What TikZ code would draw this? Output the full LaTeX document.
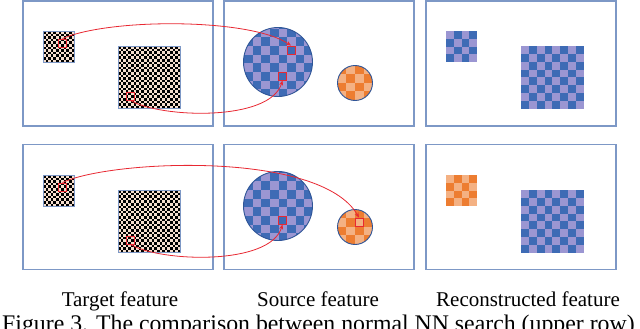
\documentclass[tikz,border=0pt]{standalone}
\usepackage{fontspec}
\setmainfont{Liberation Serif}
\usetikzlibrary{arrows.meta}
\definecolor{boxblue}{RGB}{125,152,198}
\definecolor{cellblue}{RGB}{62,107,181}
\definecolor{cellLav}{RGB}{155,150,210}
\definecolor{rimblue}{RGB}{47,85,151}
\definecolor{cellOr}{RGB}{237,125,49}
\definecolor{cellLor}{RGB}{244,177,131}
\definecolor{linkred}{RGB}{232,40,50}
\definecolor{peach}{RGB}{245,222,205}
% square checker: x0 y0 cell n colA(even) colB
\newcommand\sqchk[6]{%
  \fill[#6] (#1,#2) rectangle ++({#3*#4},{#3*#4});
  \foreach \i in {1,...,#4}{\foreach \j in {1,...,#4}{%
    \pgfmathtruncatemacro\pp{mod(\i+\j,2)}%
    \ifnum\pp=0 \fill[#5] ({#1+(\i-1)*#3},{#2+(\j-1)*#3}) rectangle ++(#3,#3);\fi}}}
% circle checker: cx cy r gx gy cell colOdd colEven
\newcommand\circchk[8]{%
  \begin{scope}
  \clip (#1,#2) circle[radius=#3];
  \fill[#8] (#1,#2) circle[radius=#3];
  \foreach \i in {-6,...,6}{\foreach \j in {-6,...,6}{%
    \pgfmathtruncatemacro\pp{mod(\i+\j+20,2)}%
    \ifnum\pp=1 \fill[#7] ({#4+\i*#6},{#5+\j*#6}) rectangle ++(#6,#6);\fi}}
  \end{scope}
  \draw[rimblue,line width=0.9pt] (#1,#2) circle[radius=#3];}
\begin{document}
\begin{tikzpicture}[x=1pt,y=-1pt,
  panel/.style={draw=boxblue,line width=1.5pt,minimum width=190pt,minimum height=125pt,inner sep=0pt},
  redsq/.style={draw=linkred,line width=0.9pt,minimum size=8pt,inner sep=0pt},
  link/.style={draw=linkred,line width=0.8pt,-{Stealth[length=5pt,width=4pt]}},
  lbl/.style={anchor=base,inner sep=0pt,font=\fontsize{21}{24}\selectfont}]
\useasboundingbox (0,0) rectangle (640,329);
\clip (0,0) rectangle (640,329);
\fill[white] (0,0) rectangle (640,329);
% panels
\node[panel] (p11) at (118,63.5) {};
\node[panel] (p12) at (319,63.5) {};
\node[panel] (p13) at (521,63.5) {};
\node[panel] (p21) at (118,207) {};
\node[panel] (p22) at (319,207) {};
\node[panel] (p23) at (521,207) {};
% ---- top row ----
\sqchk{43}{31}{2.6}{12}{black}{peach}
\draw[boxblue,line width=0.8pt] (43,31) rectangle ++(31.2,31.2);
\sqchk{118}{46}{2.6}{24}{black}{peach}
\draw[boxblue,line width=0.8pt] (118,46) rectangle ++(62.4,62.4);
\circchk{278}{62}{34.5}{278.5}{46}{8.65}{cellblue}{cellLav}
\circchk{355}{83}{17.5}{355}{74}{8.7}{cellOr}{cellLor}
\sqchk{446}{31}{7.8}{4}{cellLav}{cellblue}
\sqchk{521}{46}{7.85}{8}{cellLav}{cellblue}
% ---- bottom row ----
\sqchk{43}{175}{2.6}{12}{black}{peach}
\draw[boxblue,line width=0.8pt] (43,175) rectangle ++(31.2,31.2);
\sqchk{118}{190}{2.6}{24}{black}{peach}
\draw[boxblue,line width=0.8pt] (118,190) rectangle ++(62.4,62.4);
\circchk{278}{206}{34.5}{278.5}{190}{8.65}{cellblue}{cellLav}
\circchk{355}{227}{17.5}{355}{218}{8.7}{cellOr}{cellLor}
\sqchk{446}{175}{7.8}{4}{cellLor}{cellOr}
\sqchk{521}{190}{7.85}{8}{cellLav}{cellblue}
% red squares
\node[redsq] (ta1) at (62.5,43) {};
\node[redsq] (ta2) at (130.5,96) {};
\node[redsq] (sa1) at (291,50) {};
\node[redsq] (sa2) at (282.5,76) {};
\node[redsq] (tb1) at (62.5,187) {};
\node[redsq] (tb2) at (130.5,240) {};
\node[redsq] (sb1) at (359,222) {};
\node[redsq] (sb2) at (282.5,220) {};
% links
\draw[link] (ta1.north) .. controls (110,18) and (250,18) .. (sa1.north);
\draw[link] (ta2.south) .. controls (160,118) and (270,122) .. (sa2.south);
\draw[link] (tb1.north) .. controls (110,160) and (320,150) .. (sb1.north);
\draw[link] (tb2.south) .. controls (160,262) and (270,266) .. (sb2.south);
% labels
\node[lbl] (l1) at (120,306) {Target feature};
\node[lbl] (l2) at (318,306) {Source feature};
\node[lbl] (l3) at (528,306) {Reconstructed feature};
\node[lbl,anchor=base west,font=\fontsize{23.8}{26}\selectfont] (cap) at (2,331) {Figure 3. The comparison between normal NN search (upper row)};
\end{tikzpicture}
\end{document}
